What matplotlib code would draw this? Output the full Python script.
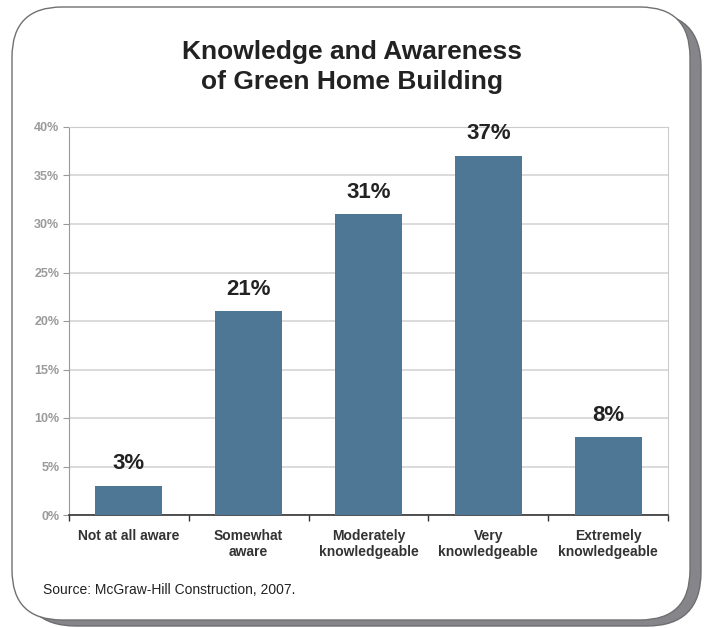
import matplotlib.pyplot as plt
from matplotlib.patches import FancyBboxPatch

plt.rcParams['font.family'] = ['Liberation Sans', 'DejaVu Sans']

categories = ['Not at all aware', 'Somewhat\naware', 'Moderately\nknowledgeable',
              'Very\nknowledgeable', 'Extremely\nknowledgeable']
shares = [3, 21, 31, 37, 8]
y_ticks = [0, 5, 10, 15, 20, 25, 30, 35, 40]

bar_color = '#4d7795'
text_dark = '#222222'

fig = plt.figure(figsize=(7.05, 6.28), dpi=100)

# background panel in pixel units: drop shadow plus rounded white card
bg = fig.add_axes([0, 0, 1, 1])
bg.set_xlim(0, 705)
bg.set_ylim(628, 0)
bg.axis('off')
shadow = FancyBboxPatch((22, 13), 679, 613, boxstyle='round,pad=0,rounding_size=54',
                        facecolor='#86868a', edgecolor='#6e6e72', linewidth=1)
card = FancyBboxPatch((12, 7), 678, 613, boxstyle='round,pad=0,rounding_size=50',
                      facecolor='white', edgecolor='#707070', linewidth=1)
bg.add_patch(shadow)
bg.add_patch(card)

fig.text(352 / 705, 1 - 67 / 628, 'Knowledge and Awareness\nof Green Home Building',
         ha='center', va='center', fontsize=19, fontweight='bold',
         color=text_dark, linespacing=1.35)

ax = fig.add_axes([69 / 705, 1 - 515 / 628, 599 / 705, 388 / 628])
ax.set_facecolor('white')
x = list(range(len(categories)))
bars = ax.bar(x, shares, width=0.56, color=bar_color, zorder=3)

for xi, v in zip(x, shares):
    ax.annotate(f'{v}%', (xi, v), xytext=(0, 12), textcoords='offset points',
                ha='center', va='baseline', fontsize=16, fontweight='bold',
                color=text_dark)

ax.set_xlim(-0.5, len(categories) - 0.5)
ax.set_ylim(0, 40)
ax.set_yticks(y_ticks)
ax.set_yticklabels([f'{t}%' for t in y_ticks], fontsize=9, fontweight='bold',
                   color='#9a9a9a')
ax.grid(axis='y', color='#d4d4d4', linewidth=1.2, zorder=0)
ax.tick_params(axis='y', length=4, color='#999999', pad=3)

# category labels on major ticks, boundary marks on minor ticks
ax.set_xticks(x)
ax.set_xticklabels(categories, fontsize=10, fontweight='bold', color='#333333',
                   linespacing=1.15)
ax.set_xticks([i - 0.5 for i in range(len(categories) + 1)], minor=True)
ax.tick_params(axis='x', which='major', length=0, pad=10)
ax.tick_params(axis='x', which='minor', length=4, color='#333333', width=1)

ax.spines['left'].set_color('#999999')
ax.spines['bottom'].set_color('#333333')
ax.spines['bottom'].set_linewidth(1.2)
ax.spines['right'].set_color('#cccccc')
ax.spines['top'].set_color('#cccccc')
ax.set_axisbelow(True)

fig.text(43 / 705, 1 - 590 / 628, 'Source: McGraw-Hill Construction, 2007.',
         ha='left', va='center', fontsize=10, color=text_dark)

fig.savefig('out.png', dpi=100)
